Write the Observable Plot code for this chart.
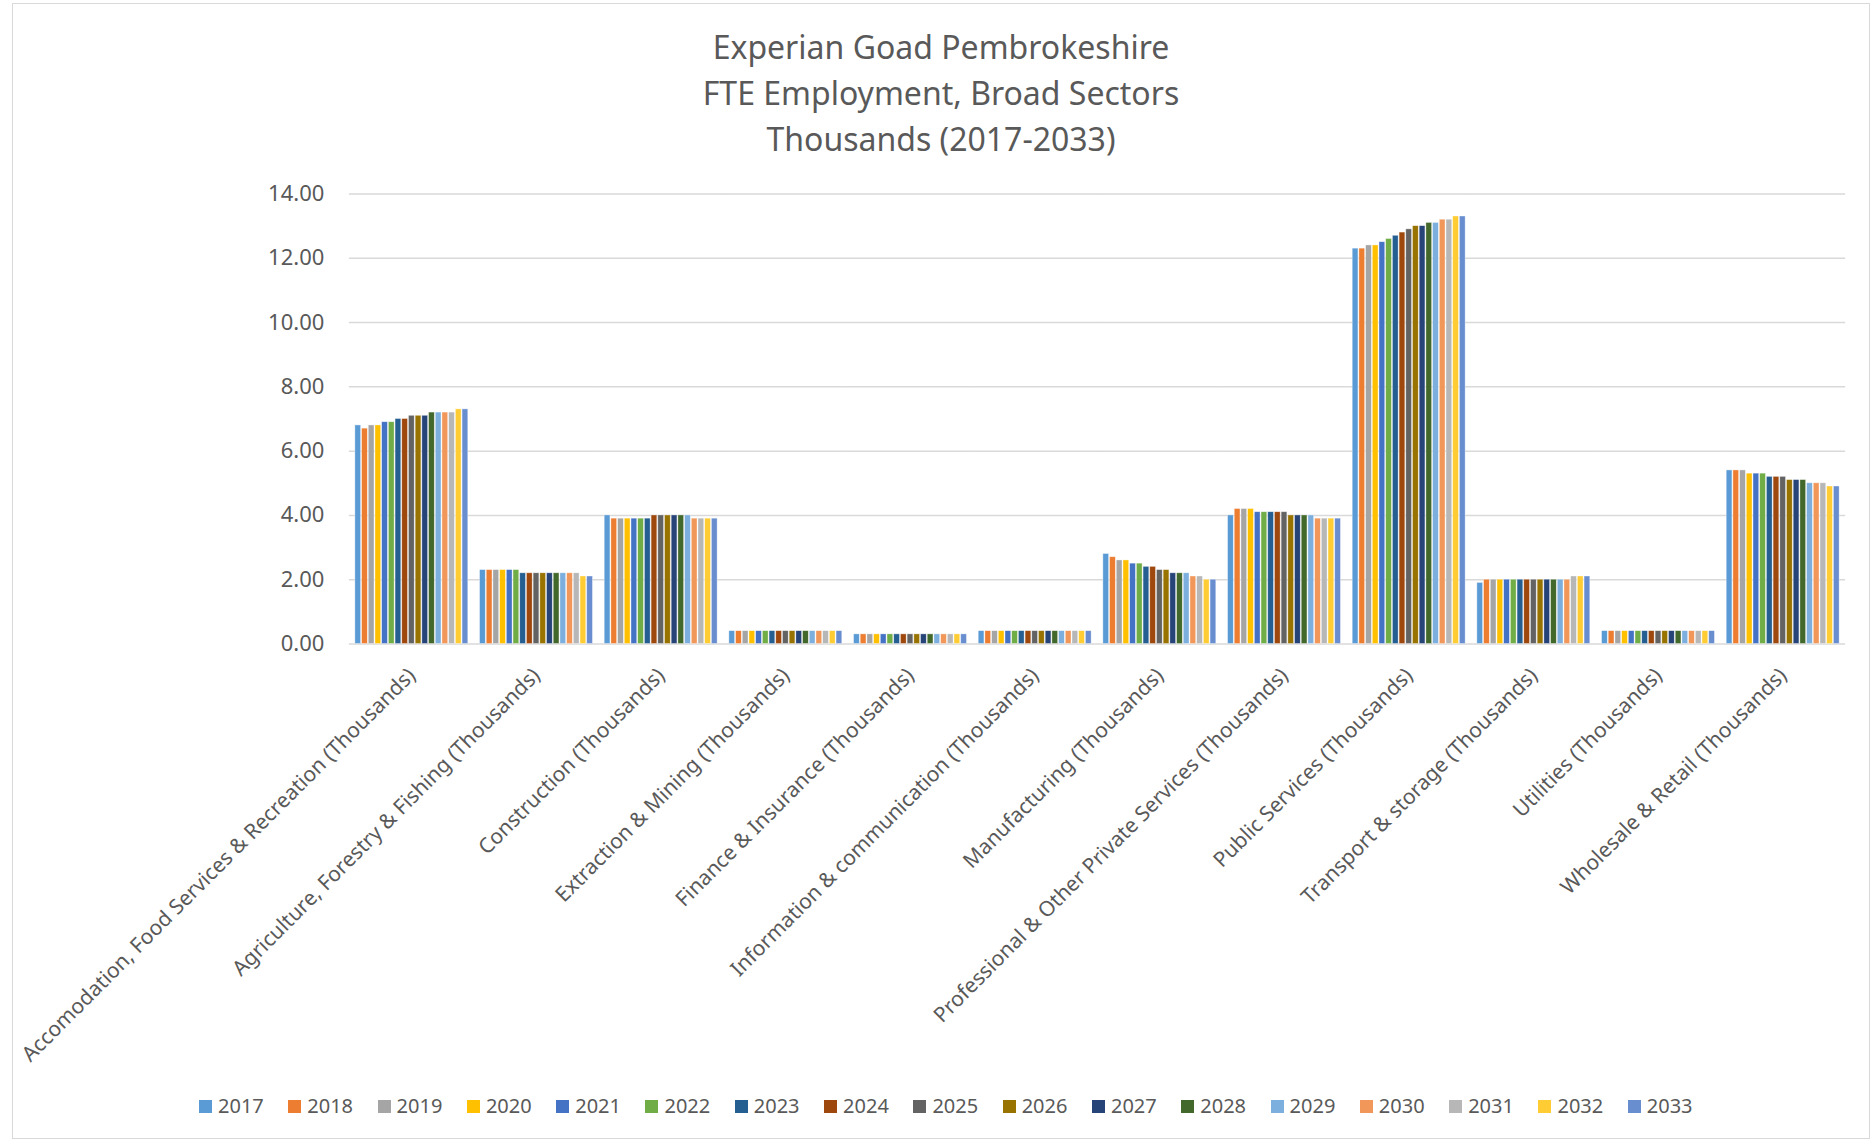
<!DOCTYPE html>
<html>
<head>
<meta charset="utf-8">
<script src="https://cdn.jsdelivr.net/npm/d3@7"></script>
<script src="https://cdn.jsdelivr.net/npm/@observablehq/plot@0.6"></script>
<style>
  body { margin: 0; background: #fff; }
  #wrap { position: relative; width: 1872px; height: 1142px; overflow: hidden; font-family: "Noto Sans", sans-serif; color: #595959; }
  #border { position: absolute; left: 12px; top: 3px; width: 1858px; height: 1136px; border: 1px solid #D9D9D9; box-sizing: border-box; }
  #title { position: absolute; left: 12px; width: 1858px; top: 24px; text-align: center; font-size: 32px; line-height: 46px; color: #595959; }
  #chart { position: absolute; left: 0; top: 0; }
  #legend { position: absolute; left: 199px; top: 1092px; display: flex; font-size: 20px; line-height: 28px; }
  .item { display: flex; align-items: center; width: 89.3px; }
  .sw { width: 13px; height: 13px; margin-right: 6px; }
</style>
</head>
<body>
<div id="wrap">
  <div id="border"></div>
  <div id="title">Experian Goad Pembrokeshire<br>FTE Employment, Broad Sectors<br>Thousands (2017-2033)</div>
  <div id="chart"></div>
  <div id="legend"></div>
</div>
<script>
const categories = [
  "Accomodation, Food Services & Recreation (Thousands)",
  "Agriculture, Forestry & Fishing (Thousands)",
  "Construction (Thousands)",
  "Extraction & Mining (Thousands)",
  "Finance & Insurance (Thousands)",
  "Information & communication (Thousands)",
  "Manufacturing (Thousands)",
  "Professional & Other Private Services (Thousands)",
  "Public Services (Thousands)",
  "Transport & storage (Thousands)",
  "Utilities (Thousands)",
  "Wholesale & Retail (Thousands)"
];
const years = ["2017","2018","2019","2020","2021","2022","2023","2024","2025","2026","2027","2028","2029","2030","2031","2032","2033"];
const colors = ["#5B9BD5","#ED7D31","#A5A5A5","#FFC000","#4472C4","#70AD47","#255E91","#9E480E","#636363","#997300","#264478","#43682B","#7CAFDD","#F1975A","#B7B7B7","#FFCD33","#698ED0"];

// values per sector, 2017..2033 (thousands)
const accomodation  = [6.8,6.7,6.8,6.8,6.9,6.9,7.0,7.0,7.1,7.1,7.1,7.2,7.2,7.2,7.2,7.3,7.3];
const agriculture   = [2.3,2.3,2.3,2.3,2.3,2.3,2.2,2.2,2.2,2.2,2.2,2.2,2.2,2.2,2.2,2.1,2.1];
const construction  = [4.0,3.9,3.9,3.9,3.9,3.9,3.9,4.0,4.0,4.0,4.0,4.0,4.0,3.9,3.9,3.9,3.9];
const extraction    = [0.4,0.4,0.4,0.4,0.4,0.4,0.4,0.4,0.4,0.4,0.4,0.4,0.4,0.4,0.4,0.4,0.4];
const finance       = [0.3,0.3,0.3,0.3,0.3,0.3,0.3,0.3,0.3,0.3,0.3,0.3,0.3,0.3,0.3,0.3,0.3];
const information   = [0.4,0.4,0.4,0.4,0.4,0.4,0.4,0.4,0.4,0.4,0.4,0.4,0.4,0.4,0.4,0.4,0.4];
const manufacturing = [2.8,2.7,2.6,2.6,2.5,2.5,2.4,2.4,2.3,2.3,2.2,2.2,2.2,2.1,2.1,2.0,2.0];
const professional  = [4.0,4.2,4.2,4.2,4.1,4.1,4.1,4.1,4.1,4.0,4.0,4.0,4.0,3.9,3.9,3.9,3.9];
const publicServ    = [12.3,12.3,12.4,12.4,12.5,12.6,12.7,12.8,12.9,13.0,13.0,13.1,13.1,13.2,13.2,13.3,13.3];
const transport     = [1.9,2.0,2.0,2.0,2.0,2.0,2.0,2.0,2.0,2.0,2.0,2.0,2.0,2.0,2.1,2.1,2.1];
const utilities     = [0.4,0.4,0.4,0.4,0.4,0.4,0.4,0.4,0.4,0.4,0.4,0.4,0.4,0.4,0.4,0.4,0.4];
const wholesale     = [5.4,5.4,5.4,5.3,5.3,5.3,5.2,5.2,5.2,5.1,5.1,5.1,5.0,5.0,5.0,4.9,4.9];
const yTicks = [0,2,4,6,8,10,12,14];

const series = [accomodation, agriculture, construction, extraction, finance, information,
                manufacturing, professional, publicServ, transport, utilities, wholesale];
const data = [];
categories.forEach((c, i) => years.forEach((y, j) => data.push({category: c, year: y, value: series[i][j]})));

const chart = Plot.plot({
  width: 1872,
  height: 1075,
  marginTop: 193.5,
  marginBottom: 431.5,
  marginLeft: 349,
  marginRight: 27,
  style: {fontFamily: "Noto Sans, sans-serif", fontSize: "20px", color: "#595959", background: "transparent"},
  fx: {domain: categories, paddingInner: 0.094, paddingOuter: 0.047, round: false, label: null, axis: null},
  x: {domain: years, paddingInner: 0.14, paddingOuter: 0, round: false, axis: null},
  y: {domain: [0, 14], axis: null},
  color: {domain: years, range: colors},
  marks: [
    Plot.ruleY(yTicks, {stroke: "#D9D9D9", strokeWidth: 1.5, insetLeft: -6, insetRight: -6}),
    Plot.barY(data, {fx: "category", x: "year", y: "value", fill: "year", stroke: "#fff", strokeOpacity: 0.55, strokeWidth: 0.7}),
    Plot.axisY(yTicks, {anchor: "left", tickSize: 0, tickPadding: 31, tickFormat: d => d.toFixed(2), fontSize: 22, label: null, fill: "#595959"}),
    Plot.axisFx({anchor: "bottom", tickRotate: -45, tickSize: 0, tickPadding: 28, fontSize: 21, label: null, fill: "#595959"})
  ]
});
document.getElementById("chart").appendChild(chart);

const legend = document.getElementById("legend");
years.forEach((y, i) => {
  const it = document.createElement("div");
  it.className = "item";
  const sw = document.createElement("div");
  sw.className = "sw";
  sw.style.background = colors[i];
  const t = document.createElement("span");
  t.textContent = y;
  it.appendChild(sw); it.appendChild(t);
  legend.appendChild(it);
});
</script>
</body>
</html>
